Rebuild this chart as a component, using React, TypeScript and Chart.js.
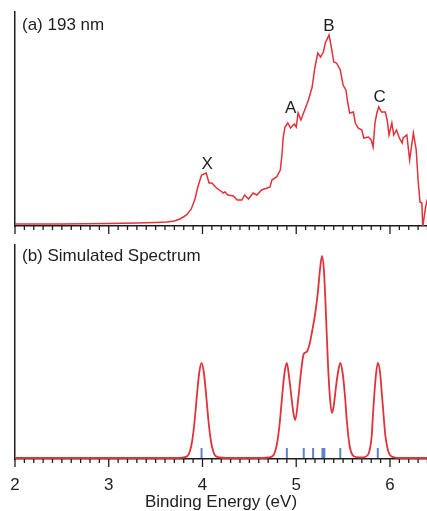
import React, { useEffect, useRef } from 'react';
import { Chart, registerables } from 'chart.js';

Chart.register(...registerables);

// ---------- data ----------
const X_MIN = 2;
const X_MAX = 6.395;
const X_TICK_LABELS = [2, 3, 4, 5, 6];

// (a) experimental 193 nm photoelectron spectrum
const EXP_ENERGY = [
  2.00, 2.50, 3.00, 3.30, 3.50, 3.62, 3.70, 3.76, 3.83, 3.88,
  3.92, 3.95, 3.99, 4.04, 4.07, 4.10, 4.15, 4.21, 4.22, 4.24,
  4.27, 4.33, 4.37, 4.42, 4.45, 4.49, 4.54, 4.58, 4.63, 4.69,
  4.72, 4.74, 4.79, 4.83, 4.85, 4.86, 4.88, 4.91, 4.94, 4.98,
  5.00, 5.02, 5.05, 5.09, 5.13, 5.17, 5.20, 5.23, 5.26, 5.29,
  5.31, 5.35, 5.38, 5.40, 5.43, 5.47, 5.50, 5.53, 5.55, 5.57,
  5.61, 5.63, 5.66, 5.70, 5.72, 5.77, 5.80, 5.82, 5.84, 5.86,
  5.88, 5.91, 5.95, 5.97, 5.99, 6.02, 6.04, 6.07, 6.10, 6.13,
  6.14, 6.18, 6.21, 6.25, 6.28, 6.30, 6.32, 6.34, 6.35, 6.38,
  6.40,
];
const EXP_INTENSITY = [
  0, 0, 0.5, 1, 1.5, 2, 3, 5, 9, 15,
  25, 37, 49, 51, 41, 41, 36, 32, 31, 32,
  29, 28, 24, 24, 29, 25, 31, 29, 34, 36,
  37, 44, 47, 54, 71, 86, 97, 101, 96, 100,
  97, 111, 104, 114, 124, 137, 157, 171, 167, 172,
  181, 189, 174, 162, 161, 154, 139, 134, 121, 111,
  112, 101, 96, 94, 86, 87, 84, 77, 101, 111,
  117, 112, 112, 104, 89, 101, 89, 94, 86, 81,
  86, 89, 64, 91, 74, 44, 22, 21, -3, 17,
  25,
];

// (b) simulated spectrum
const SIM_ENERGY = [
  2.00, 3.75, 3.79, 3.84, 3.865, 3.89, 3.915, 3.94, 3.965, 3.99,
  4.015, 4.04, 4.065, 4.09, 4.115, 4.14, 4.19, 4.25, 4.65, 4.70,
  4.75, 4.775, 4.80, 4.825, 4.85, 4.875, 4.90, 4.925, 4.95, 4.97,
  4.99, 5.02, 5.05, 5.08, 5.11, 5.14, 5.17, 5.20, 5.23, 5.255,
  5.275, 5.295, 5.31, 5.325, 5.34, 5.36, 5.38, 5.40, 5.425, 5.45,
  5.47, 5.495, 5.52, 5.54, 5.57, 5.60, 5.64, 5.70, 5.73, 5.77,
  5.79, 5.805, 5.82, 5.845, 5.87, 5.895, 5.91, 5.93, 5.95, 5.975,
  6.00, 6.05, 6.10, 6.40,
];
const SIM_INTENSITY = [
  0, 0, 0.5, 2, 6.5, 17, 36, 62, 85, 95,
  85, 62, 36, 17, 6.5, 2, 0.5, 0, 0, 0.5,
  2, 6.5, 17, 36, 62, 85, 95, 80, 60, 45,
  38, 58, 85, 104, 106, 113, 127, 143, 165, 190,
  202, 188, 160, 125, 91, 60, 45, 52, 72, 88,
  95, 85, 62, 37, 12, 3, 1, 0.5, 1, 4,
  11, 22, 45, 78, 95, 85, 68, 45, 23, 9,
  3, 0.5, 0, 0,
];

// calculated transition energies (sticks)
const STICK_ENERGY = [3.99, 4.90, 5.08, 5.18, 5.28, 5.30, 5.47, 5.87];
const STICK_HEIGHT = 10;

// peak labels on panel (a)
const PEAK_LABELS = ['X', 'A', 'B', 'C'];
const PEAK_LABEL_ENERGY = [4.05, 4.94, 5.35, 5.89];
const PEAK_LABEL_INTENSITY = [60, 116, 198, 127];

// ---------- styles ----------
const FONT = '"Liberation Sans", Arial, Helvetica, sans-serif';
const RED = '#e0323a';
const BLUE = '#5f82cc';
const AXIS = '#1e1e1e';
const TEXT = '#1e1e1e';

const minorTicks = {
  id: 'minorTicks',
  afterDraw(chart: any) {
    const x = chart.scales.x;
    const ctx = chart.ctx;
    const y0 = chart.chartArea.bottom;
    ctx.save();
    ctx.strokeStyle = AXIS;
    ctx.lineWidth = 1.3;
    for (let i = 20; i <= 64; i++) {
      const px = x.getPixelForValue(i / 10);
      const len = i % 10 === 0 ? 8 : 4;
      ctx.beginPath();
      ctx.moveTo(px, y0);
      ctx.lineTo(px, y0 + len);
      ctx.stroke();
    }
    ctx.restore();
  },
};

const textPlugin = (panelLabel: string, panelY: number, peaks: boolean) => ({
  id: 'texts',
  afterDraw(chart: any) {
    const ctx = chart.ctx;
    ctx.save();
    ctx.fillStyle = TEXT;
    ctx.font = `17px ${FONT}`;
    ctx.textBaseline = 'middle';
    ctx.textAlign = 'left';
    ctx.fillText(panelLabel, 22, panelY);
    if (peaks) {
      ctx.textAlign = 'center';
      const xs = chart.scales.x;
      const ys = chart.scales.y;
      PEAK_LABELS.forEach((t, i) => {
        ctx.fillText(t, xs.getPixelForValue(PEAK_LABEL_ENERGY[i]), ys.getPixelForValue(PEAK_LABEL_INTENSITY[i]));
      });
    }
    ctx.restore();
  },
});

function baseOptions(yMin: number, yMax: number, padTop: number, xHeight: number, showLabels: boolean): any {
  return {
    animation: false,
    responsive: false,
    events: [],
    plugins: { legend: { display: false }, tooltip: { enabled: false } },
    layout: { padding: { top: padTop, left: 0, right: 0, bottom: 0 } },
    scales: {
      x: {
        type: 'linear',
        min: X_MIN,
        max: X_MAX,
        afterFit: (s: any) => {
          s.height = xHeight;
          s.paddingLeft = 0;
          s.paddingRight = 0;
        },
        grid: { display: false, drawTicks: false },
        border: { display: true, color: AXIS, width: 1.5 },
        ticks: {
          display: showLabels,
          stepSize: 1,
          includeBounds: false,
          autoSkip: false,
          maxRotation: 0,
          padding: 16,
          color: TEXT,
          font: { family: FONT, size: 17 },
          callback: (v: number) => (X_TICK_LABELS.includes(v) ? String(v) : ''),
        },
        title: {
          display: showLabels,
          text: 'Binding Energy (eV)',
          color: TEXT,
          font: { family: FONT, size: 17, lineHeight: 1 },
          padding: { top: 0, bottom: 0.5 },
        },
      },
      y: {
        min: yMin,
        max: yMax,
        afterFit: (s: any) => { s.width = 15; },
        grid: { display: false, drawTicks: false },
        border: { display: true, color: AXIS, width: 1.5 },
        ticks: { display: false },
      },
    },
  };
}

export default function App() {
  const topRef = useRef<HTMLCanvasElement>(null);
  const botRef = useRef<HTMLCanvasElement>(null);

  useEffect(() => {
    const top = new Chart(topRef.current as HTMLCanvasElement, {
      type: 'line',
      data: {
        datasets: [
          {
            data: EXP_ENERGY.map((e, i) => ({ x: e, y: EXP_INTENSITY[i] })),
            borderColor: RED,
            borderWidth: 1.5,
            pointRadius: 0,
            tension: 0,
          },
        ],
      },
      options: baseOptions(-2, 212, 12, 14, false),
      plugins: [minorTicks, textPlugin('(a) 193 nm', 25, true)],
    } as any);

    const stickData: any[] = [];
    STICK_ENERGY.forEach((e) => {
      stickData.push({ x: e, y: 0 }, { x: e, y: STICK_HEIGHT }, { x: e, y: null });
    });

    const bot = new Chart(botRef.current as HTMLCanvasElement, {
      type: 'line',
      data: {
        datasets: [
          {
            data: stickData,
            borderColor: BLUE,
            borderWidth: 2,
            pointRadius: 0,
            spanGaps: false,
            tension: 0,
          },
          {
            data: SIM_ENERGY.map((e, i) => ({ x: e, y: SIM_INTENSITY[i] })),
            borderColor: RED,
            borderWidth: 1.8,
            pointRadius: 0,
            cubicInterpolationMode: 'monotone',
          },
        ],
      },
      options: baseOptions(-1, 213, 5, 52, true),
      plugins: [minorTicks, textPlugin('(b) Simulated Spectrum', 16, false)],
    } as any);

    return () => {
      top.destroy();
      bot.destroy();
    };
  }, []);

  return (
    <div style={{ position: 'absolute', left: 0, top: 0, width: 427, height: 511, background: '#fff' }}>
      <canvas ref={topRef} width={427} height={240} style={{ position: 'absolute', left: 0, top: 0, width: 427, height: 240 }} />
      <canvas ref={botRef} width={427} height={271} style={{ position: 'absolute', left: 0, top: 240, width: 427, height: 271 }} />
    </div>
  );
}
